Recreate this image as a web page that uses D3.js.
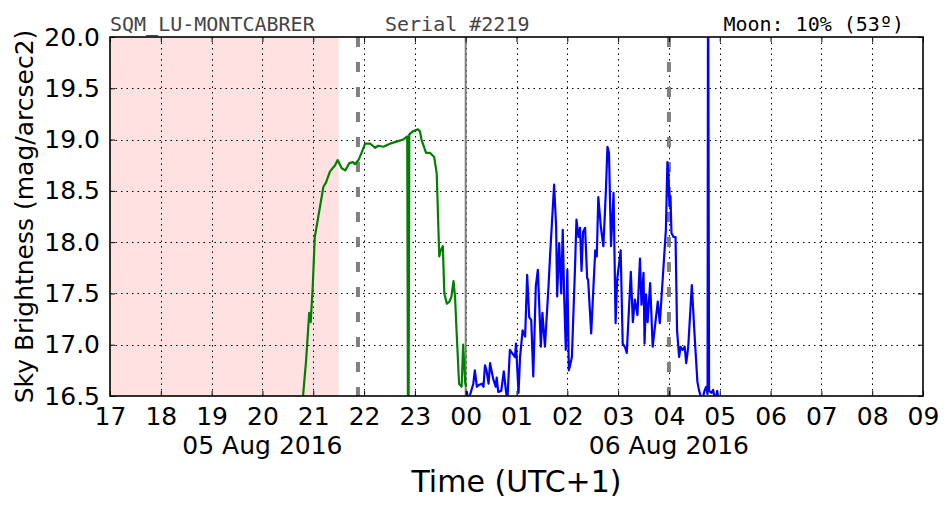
<!DOCTYPE html>
<html>
<head>
<meta charset="utf-8">
<script src="https://cdn.jsdelivr.net/npm/d3@7"></script>
<style>
  html, body { margin: 0; padding: 0; background: #fff; }
  svg { display: block; }
</style>
</head>
<body>
<svg id="chart" width="952" height="512"></svg>
<script>
// ---------- data ----------
// time in hours since 00:00 on 05 Aug 2016 (values > 24 are on 06 Aug)
const greenTimes = [20.79,20.86,20.92,20.95,20.99,21.03,21.10,21.20,21.25,21.33,21.43,21.48,21.56,21.63,21.71,21.78,21.82,21.89,21.95,22.02,22.12,22.22,22.28,22.38,22.51,22.64,22.77,22.85,22.87,22.89,22.96,23.06,23.10,23.13,23.22,23.30,23.38,23.43,23.48,23.51,23.55,23.58,23.63,23.68,23.72,23.76,23.79,23.82,23.87,23.92,23.95,23.99,24.01];
const greenValues = [16.45,16.85,17.31,17.22,17.57,18.05,18.25,18.54,18.58,18.69,18.75,18.80,18.72,18.70,18.77,18.78,18.76,18.80,18.87,18.96,18.96,18.92,18.94,18.93,18.96,18.98,19.00,19.03,15.00,19.05,19.08,19.10,19.08,19.00,18.87,18.87,18.83,18.67,17.86,17.92,17.96,17.50,17.40,17.42,17.47,17.62,17.47,17.14,16.62,16.59,17.00,16.63,16.59];

const blueTimes = [24.02,24.05,24.15,24.18,24.22,24.27,24.32,24.35,24.38,24.41,24.45,24.48,24.54,24.59,24.61,24.64,24.70,24.75,24.79,24.82,24.87,24.91,24.97,24.99,25.04,25.07,25.12,25.17,25.21,25.25,25.29,25.33,25.38,25.42,25.48,25.51,25.56,25.63,25.66,25.74,25.78,25.80,25.84,25.88,25.91,25.94,25.97,26.00,26.03,26.05,26.09,26.15,26.18,26.22,26.25,26.28,26.31,26.35,26.39,26.41,26.47,26.51,26.55,26.58,26.61,26.66,26.71,26.76,26.79,26.82,26.86,26.91,26.95,26.98,27.05,27.09,27.14,27.17,27.25,27.29,27.33,27.38,27.43,27.46,27.50,27.52,27.55,27.58,27.63,27.68,27.78,27.82,27.88,27.94,27.97,27.99,28.01,28.03,28.05,28.09,28.13,28.16,28.20,28.23,28.27,28.31,28.34,28.38,28.45,28.51,28.56,28.59,28.65,28.70,28.73,28.76,28.77,28.79,28.84,28.87,28.91,28.95,28.98];
const blueValues = [16.55,16.45,16.62,16.75,16.59,16.61,16.62,16.59,16.80,16.75,16.62,16.82,16.67,16.59,16.68,16.54,16.55,16.74,16.56,16.45,16.95,16.92,16.88,17.01,16.53,16.88,17.14,17.08,17.68,17.27,17.24,16.69,17.57,17.73,16.98,17.31,16.98,17.57,17.86,18.56,18.15,17.47,17.99,17.50,18.12,17.44,16.95,17.73,16.75,16.79,16.88,17.73,18.22,18.05,18.14,17.72,18.10,18.14,17.65,17.63,17.11,17.52,17.92,17.86,18.44,18.15,17.96,18.51,18.93,18.87,17.96,18.48,17.21,17.63,17.92,17.01,16.97,16.92,17.71,17.22,17.44,17.29,17.84,17.39,17.70,17.01,17.49,17.22,17.60,16.98,17.42,17.21,17.66,18.12,18.78,18.70,18.35,18.45,18.09,18.05,18.05,17.14,16.88,16.98,16.95,16.98,16.82,16.98,17.58,17.05,16.64,16.56,16.45,16.55,16.59,16.52,21.00,16.55,16.53,16.56,16.45,16.55,16.45];

const xDomain = [17, 33];
const yDomain = [16.5, 20.0];
const xTickHours = d3.range(17, 34, 1);
const yTickValues = d3.range(16.5, 20.01, 0.5);
const shadedSpan = [17, 21.5];
const dashedMarkers = [21.88, 28.0];
const midnightMarker = [24.0];
const dateLabelHours = [20, 28];
const dateLabelTexts = ["05 Aug 2016", "06 Aug 2016"];
const stationName = "SQM_LU-MONTCABRER";
const serialText = "Serial #2219";
const moonText = "Moon: 10% (53º)";
const yLabel = "Sky Brightness (mag/arcsec2)";
const xLabel = "Time (UTC+1)";

// ---------- layout ----------
const L = 110, R = 923, T = 37, B = 396;
const svg = d3.select("#chart");
const x = d3.scaleLinear().domain(xDomain).range([L, R]);
const y = d3.scaleLinear().domain(yDomain).range([B, T]);
const font = "'DejaVu Sans', sans-serif";

svg.append("defs").append("clipPath").attr("id", "plotclip")
  .append("rect").attr("x", L).attr("y", T).attr("width", R - L).attr("height", B - T);

// shaded region
svg.append("rect")
  .attr("x", x(shadedSpan[0])).attr("y", T)
  .attr("width", x(shadedSpan[1]) - x(shadedSpan[0])).attr("height", B - T)
  .attr("fill", "#ffe1e1");

// grid
const grid = svg.append("g").attr("stroke", "#000").attr("stroke-width", 1)
  .attr("stroke-dasharray", "1.5,4").attr("fill", "none");
grid.selectAll(".gx").data(xTickHours.slice(1, -1)).join("line")
  .attr("x1", d => Math.round(x(d)) + 0.5).attr("x2", d => Math.round(x(d)) + 0.5)
  .attr("y1", T).attr("y2", B);
grid.selectAll(".gy").data(yTickValues.slice(1, -1)).join("line")
  .attr("y1", d => Math.round(y(d)) + 0.5).attr("y2", d => Math.round(y(d)) + 0.5)
  .attr("x1", L).attr("x2", R);

// markers
svg.selectAll(".mid").data(midnightMarker).join("line")
  .attr("x1", d => x(d)).attr("x2", d => x(d)).attr("y1", T).attr("y2", B)
  .attr("stroke", "#808080").attr("stroke-width", 2);
svg.selectAll(".dash").data(dashedMarkers).join("line")
  .attr("x1", d => x(d)).attr("x2", d => x(d)).attr("y1", T).attr("y2", B)
  .attr("stroke", "#808080").attr("stroke-width", 4).attr("stroke-dasharray", "10,15");

// lines
const line = d3.line().x(d => x(d[0])).y(d => y(d[1]));
const plot = svg.append("g").attr("clip-path", "url(#plotclip)");
plot.append("path").datum(d3.zip(greenTimes, greenValues))
  .attr("d", line).attr("fill", "none").attr("stroke", "#008000")
  .attr("stroke-width", 2.2).attr("stroke-linejoin", "round");
plot.append("path").datum(d3.zip(blueTimes, blueValues))
  .attr("d", line).attr("fill", "none").attr("stroke", "#0000ff")
  .attr("stroke-width", 2.2).attr("stroke-linejoin", "round");

// axes
const fmtH = d => d3.format("02d")(d % 24);
const xAxis = svg.append("g").attr("transform", `translate(0,${B})`)
  .call(d3.axisBottom(x).tickValues(xTickHours).tickFormat(fmtH).tickSize(-5).tickPadding(11));
svg.append("g").attr("transform", `translate(0,${T})`)
  .call(d3.axisTop(x).tickValues(xTickHours).tickFormat("").tickSize(-5));
const yAxis = svg.append("g").attr("transform", `translate(${L},0)`)
  .call(d3.axisLeft(y).tickValues(yTickValues).tickFormat(d3.format(".1f")).tickSize(-5).tickPadding(10));
svg.append("g").attr("transform", `translate(${R},0)`)
  .call(d3.axisRight(y).tickValues(yTickValues).tickFormat("").tickSize(-5));
svg.selectAll(".domain").remove();
svg.selectAll(".tick line").attr("stroke", "#000").attr("stroke-width", 1);
xAxis.selectAll("text").attr("font-family", font).attr("font-size", 25).attr("fill", "#000");
yAxis.selectAll("text").attr("font-family", font).attr("font-size", 25).attr("fill", "#000");

// frame
svg.append("rect").attr("x", L).attr("y", T).attr("width", R - L).attr("height", B - T)
  .attr("fill", "none").attr("stroke", "#000").attr("stroke-width", 1.6);

// date labels
svg.selectAll(".dl").data(dateLabelHours).join("text")
  .attr("x", d => x(d)).attr("y", 454)
  .attr("text-anchor", "middle").attr("font-family", font).attr("font-size", 25)
  .text((d, i) => dateLabelTexts[i]);

// axis titles
svg.append("text").attr("x", (L + R) / 2).attr("y", 492)
  .attr("text-anchor", "middle").attr("font-family", font).attr("font-size", 30).text(xLabel);
svg.append("text").attr("transform", `translate(33,${(T + B) / 2}) rotate(-90)`)
  .attr("text-anchor", "middle").attr("font-family", font).attr("font-size", 25).text(yLabel);

// header texts
const mono = "'DejaVu Sans Mono', monospace";
svg.append("text").attr("x", 110).attr("y", 30.5).attr("font-family", mono).attr("font-size", 20)
  .attr("fill", "#444").text(stationName);
svg.append("text").attr("x", 385).attr("y", 30.5).attr("font-family", mono).attr("font-size", 20)
  .attr("fill", "#444").text(serialText);
svg.append("text").attr("x", 904).attr("y", 30.5).attr("text-anchor", "end").attr("font-family", mono).attr("font-size", 20)
  .attr("fill", "#000").text(moonText);
</script>
</body>
</html>
